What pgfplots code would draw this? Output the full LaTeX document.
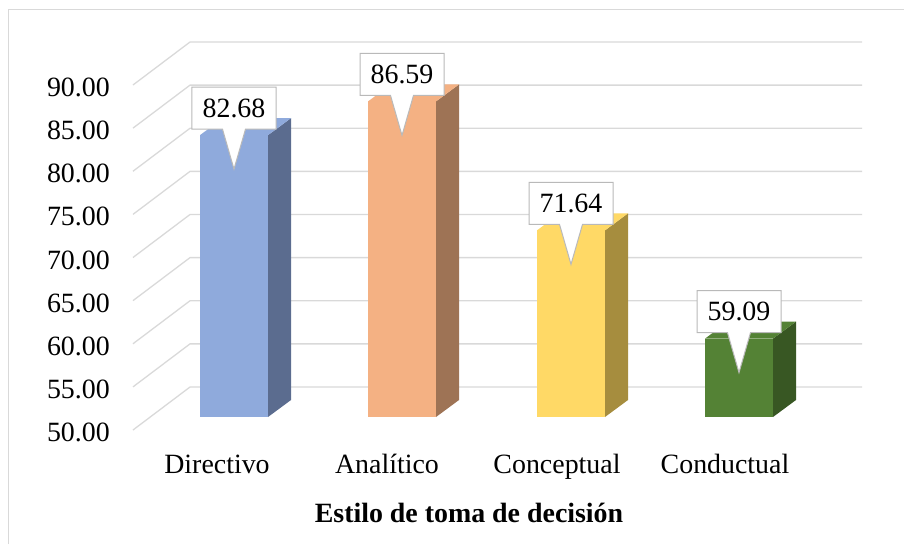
\documentclass[border=0pt]{standalone}
\usepackage{fontspec}
\setmainfont{Liberation Serif}
\newfontfamily\tnr{Liberation Serif}
\usepackage{pgfplots}
\pgfplotsset{compat=1.18}
\usetikzlibrary{shapes.callouts}
\definecolor{gridc}{HTML}{D9D9D9}
\definecolor{bordc}{HTML}{D9D9D9}
\definecolor{bluef}{HTML}{8FAADC}
\definecolor{blues}{HTML}{5B6C8F}
\definecolor{orgf}{HTML}{F4B183}
\definecolor{orgs}{HTML}{9E7355}
\definecolor{yelf}{HTML}{FFD966}
\definecolor{yels}{HTML}{A68D3E}
\definecolor{grnf}{HTML}{548235}
\definecolor{grns}{HTML}{385723}
\begin{document}
\fontsize{28}{34}\selectfont
\begin{tikzpicture}
\begin{axis}[
  scale only axis, width=760bp, height=426.94bp,
  xmin=110, xmax=870, ymin=46.5, ymax=96,
  clip=false,
  /pgf/number format/assume math mode=true,
  axis line style={draw=none},
  major tick length=0pt,
  xtick={217,387,557,725},
  xticklabels={Directivo,Analítico,Conceptual,Conductual},
  ytick={50,55,60,65,70,75,80,85,90},
  yticklabels={\mbox{\tnr 50.00},\mbox{\tnr 55.00},\mbox{\tnr 60.00},\mbox{\tnr 65.00},\mbox{\tnr 70.00},\mbox{\tnr 75.00},\mbox{\tnr 80.00},\mbox{\tnr 85.00},\mbox{\tnr 90.00}},
  yticklabel style={anchor=east, inner sep=0pt, yshift=-15.5bp},
  xticklabel style={anchor=base, inner sep=0pt, yshift=-25.8bp},
  xlabel={Estilo de toma de decisión},
  xlabel style={at={(rel axis cs:0.4724,0)}, anchor=base, inner sep=0pt, yshift=-74.8bp, font=\bfseries},
]
% outer frame
\draw[bordc, line width=1.5bp] (axis cs:8.5,35.275) -- (axis cs:8.5,97.246) -- (axis cs:904,97.246);
\coordinate (bbBL) at (axis cs:0,35.275);
\coordinate (bbTR) at (axis cs:904,98.348);
% gridlines (side wall + back wall)
\addplot[gridc, line width=1.3bp, mark=none] coordinates {(133,48.493) (190,53.478) (862,53.478)};
\addplot[gridc, line width=1.3bp, mark=none] coordinates {(133,53.493) (190,58.478) (862,58.478)};
\addplot[gridc, line width=1.3bp, mark=none] coordinates {(133,58.493) (190,63.478) (862,63.478)};
\addplot[gridc, line width=1.3bp, mark=none] coordinates {(133,63.493) (190,68.478) (862,68.478)};
\addplot[gridc, line width=1.3bp, mark=none] coordinates {(133,68.493) (190,73.478) (862,73.478)};
\addplot[gridc, line width=1.3bp, mark=none] coordinates {(133,73.493) (190,78.478) (862,78.478)};
\addplot[gridc, line width=1.3bp, mark=none] coordinates {(133,78.493) (190,83.478) (862,83.478)};
\addplot[gridc, line width=1.3bp, mark=none] coordinates {(133,83.493) (190,88.478) (862,88.478)};
\addplot[gridc, line width=1.3bp, mark=none] coordinates {(133,88.493) (190,93.478) (862,93.478)};
% Directivo 82.68
\addplot[fill=blues, draw=none] coordinates {(268,50) (291,51.971) (291,84.651) (268,82.68)} -- cycle;
\addplot[fill=bluef, draw=none] coordinates {(200,82.68) (268,82.68) (291,84.651) (223,84.651)} -- cycle;
\addplot[fill=bluef, draw=none] coordinates {(200,50) (268,50) (268,82.68) (200,82.68)} -- cycle;
% Analitico 86.59
\addplot[fill=orgs, draw=none] coordinates {(436,50) (459,51.971) (459,88.561) (436,86.59)} -- cycle;
\addplot[fill=orgf, draw=none] coordinates {(368,86.59) (436,86.59) (459,88.561) (391,88.561)} -- cycle;
\addplot[fill=orgf, draw=none] coordinates {(368,50) (436,50) (436,86.59) (368,86.59)} -- cycle;
% Conceptual 71.64
\addplot[fill=yels, draw=none] coordinates {(605,50) (628,51.971) (628,73.611) (605,71.64)} -- cycle;
\addplot[fill=yelf, draw=none] coordinates {(537,71.64) (605,71.64) (628,73.611) (560,73.611)} -- cycle;
\addplot[fill=yelf, draw=none] coordinates {(537,50) (605,50) (605,71.64) (537,71.64)} -- cycle;
% Conductual 59.09
\addplot[fill=grns, draw=none] coordinates {(773,50) (796,51.971) (796,61.061) (773,59.09)} -- cycle;
\addplot[fill=grnf, draw=none] coordinates {(705,59.09) (773,59.09) (796,61.061) (728,61.061)} -- cycle;
\addplot[fill=grnf, draw=none] coordinates {(705,50) (773,50) (773,59.09) (705,59.09)} -- cycle;
% data labels (callouts)
\addplot[only marks, mark=none, point meta=explicit symbolic,
  nodes near coords={\mbox{\tnr\pgfplotspointmeta}},
  every node near coord/.style={rectangle callout, draw=gray!55, fill=white, line width=1bp,
    text=black, inner sep=0pt, minimum width=84bp, minimum height=42bp, anchor=center,
    yshift=27bp, callout relative pointer={(canvas cs:x=0bp,y=-40bp)}, callout pointer width=23bp}]
  coordinates {(234,82.68) [82.68] (402,86.59) [86.59] (571,71.64) [71.64] (739,59.09) [59.09]};
\end{axis}
\pgfresetboundingbox
\path (bbBL) rectangle (bbTR);
\end{tikzpicture}
\end{document}
